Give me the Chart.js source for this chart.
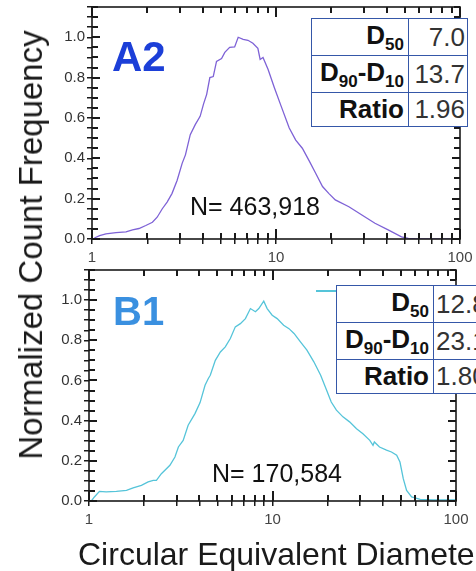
<!DOCTYPE html>
<html lang="en">
<head>
  <meta charset="UTF-8">
  <title>Particle Size Distributions</title>
  <script src="https://cdn.jsdelivr.net/npm/chart.js@4.4.1/dist/chart.umd.min.js"></script>
  <style>
    body { margin: 0; width: 476px; height: 571px; overflow: hidden; position: relative; background: #fff;
           font-family: "Liberation Sans", Arial, sans-serif; }
    canvas { position: absolute; left: 0; }
    .lbl { position: absolute; white-space: nowrap; }
    .tag { font-weight: bold; line-height: 1; }
    .count { font-size: 25px; line-height: 1; color: #111; }
    table.stats { position: absolute; border-collapse: collapse; table-layout: fixed; background: #fff; }
    table.stats td { border: 1.5px solid #3557a8; height: 33px; padding: 0 4px; line-height: 33px;
                     text-align: right; white-space: nowrap; overflow: hidden; }
    table.stats td.k { font-weight: bold; font-size: 26px; color: #111; }
    table.stats td.v { font-size: 26px; color: #333; padding-right: 2px; }
    table.stats td.cut { text-align: left; padding-left: 2px; }
    table.stats sub { font-size: 17px; vertical-align: baseline; position: relative; top: 6px; }
  </style>
</head>
<body>
<canvas id="chartA2" width="476" height="270" style="top:0"></canvas>
<canvas id="chartB1" width="476" height="309" style="top:262px"></canvas>

<!-- panel labels -->
<div class="lbl tag" style="left:112px; top:36px; font-size:42px; color:#1c3fd8;">A2</div>
<div class="lbl tag" style="left:113px; top:291px; font-size:40px; color:#3a90e0;">B1</div>
<div class="lbl count" style="left:190px; top:194px;">N= 463,918</div>
<div class="lbl count" style="left:212px; top:461px;">N= 170,584</div>

<!-- legend stub behind the B1 table -->
<div class="lbl" style="left:316px; top:290px; width:24px; height:2px; background:#55c4d9;"></div>

<table class="stats" style="left:311px; top:18px; width:156px;">
  <colgroup><col style="width:97px"><col style="width:59px"></colgroup>
  <tr><td class="k">D<sub>50</sub></td><td class="v">7.0</td></tr>
  <tr><td class="k">D<sub>90</sub>-D<sub>10</sub></td><td class="v">13.7</td></tr>
  <tr><td class="k">Ratio</td><td class="v">1.96</td></tr>
</table>
<table class="stats" style="left:336px; top:285px; width:156px;">
  <colgroup><col style="width:97px"><col style="width:59px"></colgroup>
  <tr><td class="k">D<sub>50</sub></td><td class="v cut">12.8</td></tr>
  <tr><td class="k">D<sub>90</sub>-D<sub>10</sub></td><td class="v cut">23.1</td></tr>
  <tr><td class="k">Ratio</td><td class="v cut">1.80</td></tr>
</table>

<!-- axis titles -->
<div class="lbl" style="left:31px; top:245px; transform:translate(-50%,-50%) rotate(-90deg);
     font-size:33px; line-height:36px; color:#1a1a1a;">Normalized Count Frequency</div>
<div class="lbl" style="left:78px; top:538px; font-size:32px; line-height:1; color:#1a1a1a;">Circular Equivalent Diameter (µm)</div>

<script>
  // A2 distribution (diameter, normalized frequency)
  const a2Diameter = [1.03, 1.10, 1.19, 1.35, 1.53, 1.66, 1.80, 1.96, 2.13, 2.26, 2.41, 2.56, 2.72, 2.90,
    3.09, 3.22, 3.42, 3.64, 3.87, 4.04, 4.20, 4.37, 4.56, 4.75, 5.06, 5.27, 5.60, 5.96, 6.23, 6.63,
    7.04, 7.49, 7.97, 8.2, 8.5, 9.06, 9.8, 10.65, 11.8, 12.8, 13.9, 15.1, 16.4, 17.9, 19.4, 21.0,
    24.9, 29.3, 34.5, 40.7, 48.1, 52.4, 60, 70, 80, 95];
  const a2Frequency = [0.005, 0.017, 0.025, 0.032, 0.035, 0.045, 0.052, 0.067, 0.083, 0.108, 0.15, 0.183, 0.225, 0.29,
    0.375, 0.417, 0.517, 0.567, 0.608, 0.67, 0.717, 0.80, 0.805, 0.88, 0.895, 0.925, 0.95, 0.952, 1.0, 0.99,
    0.985, 0.97, 0.945, 0.89, 0.90, 0.84, 0.75, 0.66, 0.55, 0.49, 0.45, 0.39, 0.327, 0.26, 0.225, 0.194,
    0.16, 0.119, 0.078, 0.045, 0.011, 0.003, 0, 0, 0, 0];

  // B1 distribution
  const b1Diameter = [1.03, 1.07, 1.14, 1.24, 1.41, 1.60, 1.74, 1.93, 2.10, 2.24, 2.33, 2.48, 2.76, 2.94,
    3.07, 3.26, 3.47, 3.78, 4.03, 4.29, 4.47, 4.58, 4.88, 5.20, 5.53, 5.89, 6.27, 6.68, 7.12, 7.58,
    8.07, 8.42, 8.96, 9.35, 9.96, 10.6, 11.5, 12.3, 13.1, 14.2, 15.4, 16.8, 18.3, 19.6, 20.9, 22.3,
    24.2, 26.3, 28.7, 31.1, 33.9, 35.3, 35.9, 38.3, 41.8, 44.5, 47.5, 49.5, 51.6, 53.8, 57.3, 63.8,
    75.3, 100];
  const b1Frequency = [0.0, 0.02, 0.048, 0.045, 0.048, 0.053, 0.065, 0.078, 0.095, 0.103, 0.103, 0.136, 0.178, 0.219,
    0.269, 0.302, 0.377, 0.435, 0.49, 0.576, 0.61, 0.626, 0.70, 0.742, 0.767, 0.809, 0.867, 0.883, 0.908, 0.958,
    0.942, 0.958, 0.995, 0.958, 0.925, 0.908, 0.875, 0.858, 0.834, 0.792, 0.751, 0.693, 0.626, 0.558, 0.493, 0.452,
    0.419, 0.394, 0.36, 0.335, 0.302, 0.277, 0.294, 0.269, 0.253, 0.244, 0.228, 0.194, 0.111, 0.053, 0.02, 0.008,
    0.005, 0.005];

  const xTickLabels = [1, 10, 100];
  const yTickLabels = [0, 0.2, 0.4, 0.6, 0.8, 1.0];
  const yMax = 1.15;

  // every log position 1..9, 10..90, 100 and every 0.05 step get a tick mark
  const xMarks = [];
  [1, 10].forEach(d => { for (let k = 1; k <= 9; k++) xMarks.push(d * k); });
  xMarks.push(100);
  const yMarks = [];
  for (let i = 0; i <= 23; i++) yMarks.push(Math.round(i * 5) / 100);

  // inward marks on all four sides, the box, and the decade labels under the x axis
  const frameTicks = {
    id: 'frameTicks',
    afterDraw(chart) {
      const ctx = chart.ctx;
      const a = chart.chartArea;
      const sx = chart.scales.x, sy = chart.scales.y;
      ctx.save();
      ctx.fillStyle = '#1a1a1a';
      xMarks.forEach(v => {
        const major = xTickLabels.includes(v);
        const px = Math.round(sx.getPixelForValue(v));
        ctx.fillRect(px - 1, a.bottom - (major ? 10 : 6), 2, major ? 10 : 6);
        ctx.fillRect(px - 1, a.top, 2, major ? 10 : 6);
      });
      yMarks.forEach((v, i) => {
        const inn = i % 4 === 0 ? 8 : 6;
        const py = Math.round(sy.getPixelForValue(v));
        ctx.fillRect(a.left, py - 1, inn, 2);
        ctx.fillRect(a.right - inn, py - 1, inn, 2);
      });
      ctx.strokeStyle = '#1a1a1a';
      ctx.lineWidth = 1.6;
      ctx.strokeRect(a.left, a.top, a.right - a.left, a.bottom - a.top);

      ctx.fillStyle = '#444';
      ctx.font = '15px "Liberation Sans", Arial, sans-serif';
      ctx.textAlign = 'center';
      ctx.textBaseline = 'middle';
      xTickLabels.forEach(v => ctx.fillText(String(v), sx.getPixelForValue(v), a.bottom + 19));
      ctx.restore();
    }
  };

  function makeChart(id, xs, ys, color, box) {
    const tickFont = { family: '"Liberation Sans", Arial, sans-serif', size: 15 };
    const gridTicks = { display: true, drawOnChartArea: false, drawTicks: true, tickLength: 5,
                        color: '#1a1a1a', lineWidth: 1.5 };
    return new Chart(document.getElementById(id), {
      type: 'line',
      data: {
        datasets: [{
          data: xs.map((v, i) => ({ x: v, y: ys[i] })),
          borderColor: color,
          borderWidth: 1.3,
          pointRadius: 0,
          tension: 0
        }]
      },
      options: {
        responsive: false,
        animation: false,
        layout: { padding: { top: box.top, right: box.right, left: 0, bottom: 0 } },
        plugins: { legend: { display: false }, tooltip: { enabled: false } },
        scales: {
          x: {
            type: 'logarithmic',
            min: 1, max: 100,
            grid: gridTicks,
            border: { display: false },
            afterBuildTicks: s => { s.ticks = xMarks.map(v => ({ value: v })); },
            afterFit: s => { s.height = box.xHeight; s.paddingLeft = 0; s.paddingRight = 0; },
            ticks: { font: tickFont, padding: 0, maxRotation: 0, autoSkip: false,
                     callback: () => '' }
          },
          y: {
            min: 0, max: yMax,
            grid: gridTicks,
            border: { display: false },
            afterBuildTicks: s => { s.ticks = yMarks.map(v => ({ value: v })); },
            afterFit: s => { s.width = box.left; s.paddingTop = 0; s.paddingBottom = 0; },
            ticks: { color: '#333', font: tickFont, padding: 2, autoSkip: false,
                     callback: v => yTickLabels.some(t => Math.abs(t - v) < 1e-6) ? Number(v).toFixed(1) : '' }
          }
        }
      },
      plugins: [frameTicks]
    });
  }

  makeChart('chartA2', a2Diameter, a2Frequency, '#7e62d6', { left: 92, top: 7, right: 16, xHeight: 31 });
  makeChart('chartB1', b1Diameter, b1Frequency, '#55c4d9', { left: 89, top: 8, right: 20, xHeight: 70 });
</script>
</body>
</html>
